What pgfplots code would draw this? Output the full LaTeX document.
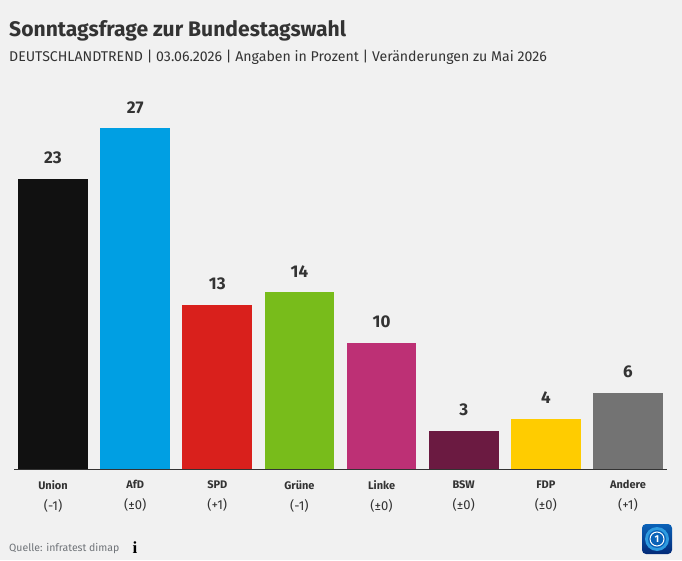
\documentclass[border=0pt]{standalone}
\usepackage{pgfplots}
\usepackage{fontspec}
\pgfplotsset{compat=1.18}
\setmainfont{Fira Sans}
\newfontfamily\iconfont{Liberation Serif}
\definecolor{bg}{HTML}{F1F1F1}
\definecolor{ink}{HTML}{333333}
\definecolor{cunion}{HTML}{111111}
\definecolor{cafd}{HTML}{009FE3}
\definecolor{cspd}{HTML}{D9201C}
\definecolor{cgruene}{HTML}{78BC1B}
\definecolor{clinke}{HTML}{BD3075}
\definecolor{cbsw}{HTML}{6B1A41}
\definecolor{cfdp}{HTML}{FFCC00}
\definecolor{candere}{HTML}{737373}
\definecolor{source}{HTML}{6F7378}
\definecolor{logoblue}{HTML}{0A62B8}
\definecolor{logodark}{HTML}{032A78}
\definecolor{logoring}{HTML}{2E9BE0}
\newcommand{\lab}[2]{{\fontsize{11}{12}\selectfont\bfseries #1}\\[9pt]{\fontsize{13}{14}\selectfont #2}}
\begin{document}
\begin{tikzpicture}[x=1pt,y=1pt]
% page in pixel coordinates, y measured from the bottom
\fill[bg] (0,0) rectangle (682,560);
\node[anchor=base west,text=ink,font=\fontsize{21.1}{24}\selectfont\bfseries,inner sep=0pt] at (9,523) {Sonntagsfrage zur Bundestagswahl};
\node[anchor=base west,text=ink,font=\fontsize{14.13}{16}\selectfont,inner sep=0pt] at (9,498) {DEUTSCHLANDTREND | 03.06.2026 | Angaben in Prozent | Veränderungen zu Mai 2026};
\begin{axis}[
    at={(14pt,91pt)},anchor=south west,
    scale only axis,
    width=653pt,height=378.5pt,
    xmin=-0.475,xmax=7.475,ymin=0,ymax=30,
    ybar,bar shift=0pt,bar width=69.6pt,
    axis x line=bottom,axis y line=none,
    axis line style={ink,line width=1pt,-},
    xtick={0,1,2,3,4,5,6,7},
    xticklabels={{\lab{Union}{(-1)}},{\lab{AfD}{(±0)}},{\lab{SPD}{(+1)}},{\lab{Grüne}{(-1)}},{\lab{Linke}{(±0)}},{\lab{BSW}{(±0)}},{\lab{FDP}{(±0)}},{\lab{Andere}{(+1)}}},
    xticklabel style={align=center,text=ink,yshift=-8pt},
    major tick length=0pt,
    nodes near coords,
    /pgf/number format/assume math mode=true,
    every node near coord/.append style={text=ink,font=\fontsize{17}{20}\selectfont\bfseries,yshift=11.5pt},
    clip=false,
]
\addplot[fill=cunion,draw=none] coordinates {(0,23)};
\addplot[fill=cafd,draw=none] coordinates {(1,27)};
\addplot[fill=cspd,draw=none] coordinates {(2,13)};
\addplot[fill=cgruene,draw=none] coordinates {(3,14)};
\addplot[fill=clinke,draw=none] coordinates {(4,10)};
\addplot[fill=cbsw,draw=none] coordinates {(5,3)};
\addplot[fill=cfdp,draw=none] coordinates {(6,4)};
\addplot[fill=candere,draw=none] coordinates {(7,6)};
\end{axis}
\node[anchor=base west,text=source,font=\fontsize{10.5}{13}\selectfont,inner sep=0pt] at (9,9) {Quelle: infratest dimap};
\node[anchor=base,font=\iconfont\fontsize{17}{18}\selectfont\bfseries,inner sep=0pt] at (135,7) {i};
% logo
\shade[top color=logoblue,bottom color=logodark,rounded corners=4pt] (642,6) rectangle (672,36);
\fill[logoring] (657,21) circle (12);
\fill[logoblue] (657,21) circle (9);
\draw[white,line width=1pt] (657,21) circle (7);
\node[text=white,font=\fontsize{10}{11}\selectfont\bfseries,inner sep=0pt] at (657,21) {1};
\end{tikzpicture}
\end{document}
